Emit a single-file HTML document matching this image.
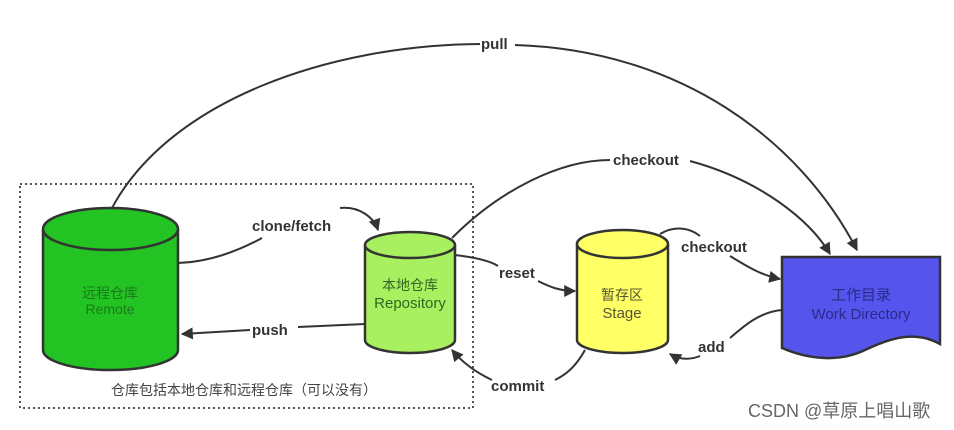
<!DOCTYPE html>
<html><head><meta charset="utf-8"><style>
html,body{margin:0;padding:0;background:#fff;}
svg{display:block}
.l{font-family:"Liberation Sans","Noto Sans CJK SC",sans-serif;font-weight:bold;font-size:15px;fill:#333}
.n{font-family:"Liberation Sans","Noto Sans CJK SC",sans-serif;font-size:14px;text-anchor:middle}
</style></head><body>
<svg width="954" height="430" viewBox="0 0 954 430" xmlns="http://www.w3.org/2000/svg">
<defs>
<marker id="b" viewBox="0 0 10 10" refX="9" refY="5" markerWidth="14" markerHeight="12" orient="auto" markerUnits="userSpaceOnUse"><path d="M0,0 L10,5 L0,10 z" fill="#333"/></marker></defs>
<rect x="20" y="184" width="453" height="224" fill="none" stroke="#555" stroke-width="2" stroke-dasharray="2,3"/>
<g fill="none" stroke="#333" stroke-width="2">
<path d="M112,208 C170,100 330,45 480,44" />
<path d="M515,45 C680,50 800,140 857,250" marker-end="url(#b)"/>
<path d="M452,238 C500,190 560,160 610,160"/>
<path d="M690,161 C760,180 810,220 830,254" marker-end="url(#b)"/>
<path d="M178,263 C210,262 240,250 262,238"/>
<path d="M340,208 C360,206 374,218 378,230" marker-end="url(#b)"/>
<path d="M365,324 L298,327"/><path d="M250,330 L182,334" marker-end="url(#b)"/>
<path d="M455,255 C480,258 492,262 498,266"/>
<path d="M538,281 C550,287 560,291 575,291" marker-end="url(#b)"/>
<path d="M585,350 C575,368 565,375 555,380"/>
<path d="M492,380 C475,372 462,362 452,350" marker-end="url(#b)"/>
<path d="M660,234 C675,225 690,228 700,236"/>
<path d="M730,256 C745,265 760,275 780,279" marker-end="url(#b)"/>
<path d="M782,310 C760,312 745,325 730,338"/>
<path d="M700,356 C690,360 680,360 670,354" marker-end="url(#b)"/>
</g>
<path d="M43,229 L43,350 A67.5,20 0 0 0 178,350 L178,229" fill="#22c322" stroke="#333" stroke-width="2.5"/>
<ellipse cx="110.5" cy="229" rx="67.5" ry="21" fill="#22c322" stroke="#333" stroke-width="2.5"/>
<text class="n" x="110" y="298" fill="#1a7a1a">远程仓库</text>
<text class="n" x="110" y="314" fill="#1a7a1a">Remote</text>
<path d="M365,245 L365,340 A45,13 0 0 0 455,340 L455,245" fill="#a8f060" stroke="#333" stroke-width="2.5"/>
<ellipse cx="410" cy="245" rx="45" ry="13" fill="#a8f060" stroke="#333" stroke-width="2.5"/>
<text class="n" x="410" y="290" fill="#336622">本地仓库</text>
<text class="n" x="410" y="308" fill="#336622" style="font-size:15px">Repository</text>
<path d="M577,244 L577,340 A45.5,13 0 0 0 668,340 L668,244" fill="#ffff66" stroke="#333" stroke-width="2.5"/>
<ellipse cx="622.5" cy="244" rx="45.5" ry="14" fill="#ffff66" stroke="#333" stroke-width="2.5"/>
<text class="n" x="622" y="300" fill="#555533">暂存区</text>
<text class="n" x="622" y="318" fill="#555533" style="font-size:15px">Stage</text>
<path d="M782,257 L940,257 L940,344 C915,330 890,338 865,350 C840,362 810,360 782,348 Z" fill="#5555ee" stroke="#333" stroke-width="2.5"/>
<text class="n" x="861" y="300" fill="#2a2a88" style="font-size:15px">工作目录</text>
<text class="n" x="861" y="319" fill="#2a2a88" style="font-size:15px">Work Directory</text>
<text class="l" x="481" y="49">pull</text>
<text class="l" x="613" y="165">checkout</text>
<text class="l" x="252" y="231">clone/fetch</text>
<text class="l" x="252" y="335">push</text>
<text class="l" x="499" y="278">reset</text>
<text class="l" x="681" y="252">checkout</text>
<text class="l" x="698" y="352">add</text>
<text class="l" x="491" y="391">commit</text>
<text x="244" y="395" style="font-family:'Liberation Sans','Noto Sans CJK SC',sans-serif;font-size:14px;fill:#444;text-anchor:middle">仓库包括本地仓库和远程仓库（可以没有）</text>
<text x="748" y="417" style="font-family:'Liberation Sans','Noto Sans CJK SC',sans-serif;font-size:18px;fill:#666">CSDN @草原上唱山歌</text>
</svg>
</body></html>
